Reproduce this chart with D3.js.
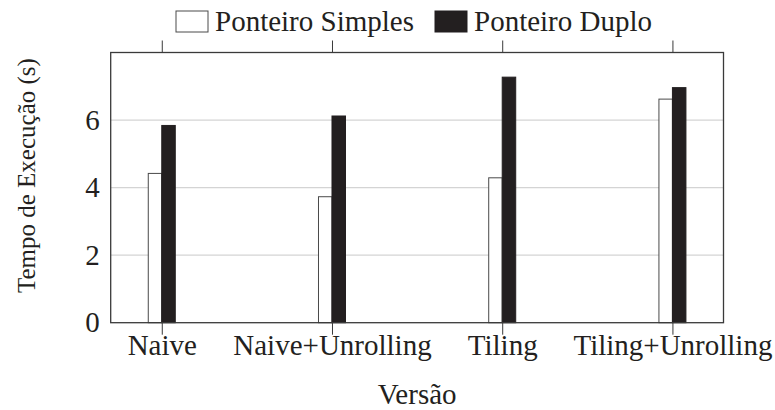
<!DOCTYPE html>
<html>
<head>
<meta charset="utf-8">
<script src="https://cdn.jsdelivr.net/npm/d3@7"></script>
<style>
  body { margin: 0; background: #fff; }
  text { font-family: "Liberation Serif", "Times New Roman", serif; fill: #231f20; }
</style>
</head>
<body>
<div id="graph"></div>
<script>
// data
let versions = ["Naive", "Naive+Unrolling", "Tiling", "Tiling+Unrolling"];
let simples = [4.42, 3.73, 4.29, 6.62];
let duplo = [5.84, 6.12, 7.27, 6.96];
let seriesNames = ["Ponteiro Simples", "Ponteiro Duplo"];
let yTicks = [0, 2, 4, 6];

let svgWidth = 775, svgHeight = 410;
let plot = { left: 110.7, right: 723.5, top: 52.5, bottom: 322.7 };
let barW = 13.5;
let dark = "#231f20";
let fontSize = 29;

let svg = d3.select("#graph")
  .append("svg")
  .attr("width", svgWidth)
  .attr("height", svgHeight);

let xScale = d3.scaleLinear()
  .domain([-0.3, versions.length - 1 + 0.3])
  .range([plot.left, plot.right]);

let yScale = d3.scaleLinear()
  .domain([0, 8])
  .range([plot.bottom, plot.top]);

// grid lines
svg.append("g")
  .selectAll("line")
  .data(yTicks.filter(d => d > 0))
  .enter().append("line")
  .attr("x1", plot.left)
  .attr("x2", plot.right)
  .attr("y1", d => yScale(d))
  .attr("y2", d => yScale(d))
  .attr("stroke", "#d4d4d4")
  .attr("stroke-width", 1.2);

// bars
let rows = versions.map((v, i) => ({ v: v, i: i, s: simples[i], d: duplo[i] }));

svg.append("g").selectAll("rect")
  .data(rows)
  .enter().append("rect")
  .attr("x", d => xScale(d.i) - barW)
  .attr("y", d => yScale(d.s))
  .attr("width", barW)
  .attr("height", d => yScale(0) - yScale(d.s))
  .attr("fill", "#fff")
  .attr("stroke", "#4a4a4a")
  .attr("stroke-width", 1);

svg.append("g").selectAll("rect")
  .data(rows)
  .enter().append("rect")
  .attr("x", d => xScale(d.i))
  .attr("y", d => yScale(d.d))
  .attr("width", barW)
  .attr("height", d => yScale(0) - yScale(d.d))
  .attr("fill", dark)
  .attr("stroke", dark)
  .attr("stroke-width", 1);

// frame
svg.append("rect")
  .attr("x", plot.left)
  .attr("y", plot.top)
  .attr("width", plot.right - plot.left)
  .attr("height", plot.bottom - plot.top)
  .attr("fill", "none")
  .attr("stroke", "#3a3a3a")
  .attr("stroke-width", 1.3);

// x axis (bottom with labels, top with bare ticks)
let xAxis = d3.axisBottom(xScale)
  .tickValues(d3.range(versions.length))
  .tickFormat(i => versions[i])
  .tickSize(12)
  .tickPadding(0);

let gx = svg.append("g")
  .attr("transform", `translate(0, ${plot.bottom})`)
  .call(xAxis);
gx.select(".domain").remove();
gx.selectAll("line").attr("stroke", "#3a3a3a");
gx.selectAll("text")
  .style("font-size", fontSize + "px")
  .attr("fill", dark);

let gxTop = svg.append("g")
  .attr("transform", `translate(0, ${plot.top})`)
  .call(d3.axisTop(xScale).tickValues(d3.range(versions.length)).tickFormat("").tickSize(12));
gxTop.select(".domain").remove();
gxTop.selectAll("line").attr("stroke", "#3a3a3a");

// y axis
let gy = svg.append("g")
  .attr("transform", `translate(${plot.left}, 0)`)
  .call(d3.axisLeft(yScale).tickValues(yTicks).tickSize(0).tickPadding(11));
gy.select(".domain").remove();
gy.selectAll("text")
  .style("font-size", fontSize + "px")
  .attr("fill", dark);

// axis titles
svg.append("text")
  .attr("x", (plot.left + plot.right) / 2)
  .attr("y", 404)
  .attr("text-anchor", "middle")
  .style("font-size", fontSize + "px")
  .text("Versão");

svg.append("text")
  .attr("transform", `translate(35, ${(plot.top + plot.bottom) / 2 - 12}) rotate(-90)`)
  .attr("text-anchor", "middle")
  .style("font-size", "25px")
  .text("Tempo de Execução (s)");

// legend
let legendFill = ["#fff", dark];
let legendX = [176, 435];
let legend = svg.append("g").selectAll("g")
  .data(seriesNames)
  .enter().append("g")
  .attr("transform", (d, i) => `translate(${legendX[i]}, 11)`);

legend.append("rect")
  .attr("width", 32)
  .attr("height", 21)
  .attr("fill", (d, i) => legendFill[i])
  .attr("stroke", (d, i) => i === 0 ? "#4a4a4a" : dark)
  .attr("stroke-width", 1);

legend.append("text")
  .attr("x", 39)
  .attr("y", 20)
  .style("font-size", fontSize + "px")
  .text(d => d);
</script>
</body>
</html>
